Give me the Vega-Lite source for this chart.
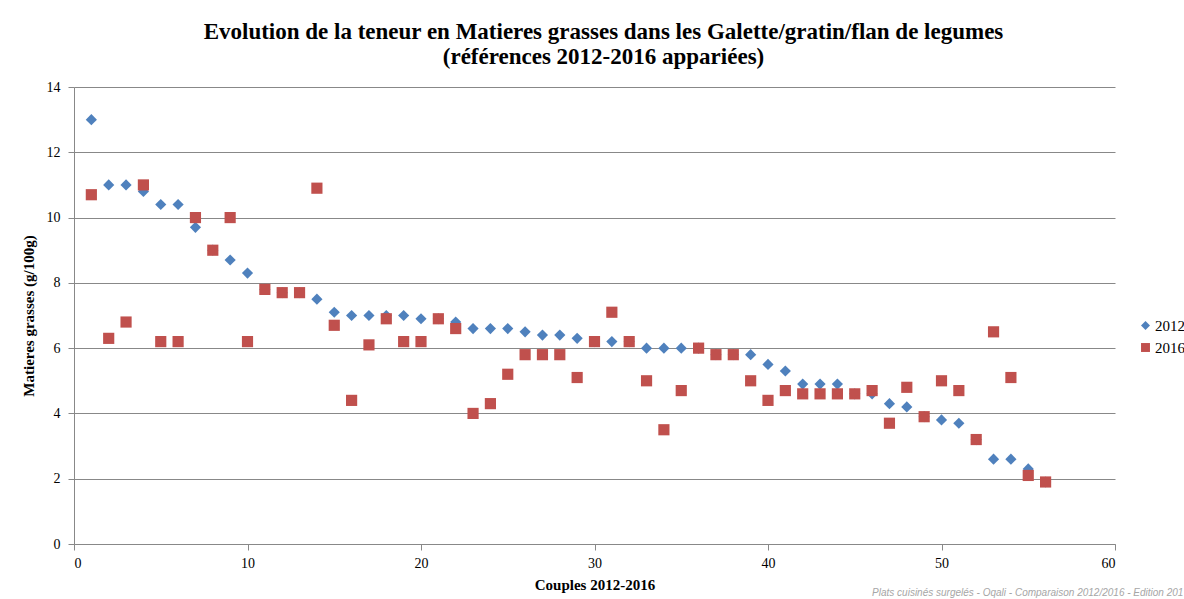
{
  "$schema": "https://vega.github.io/schema/vega-lite/v6.json",
  "autosize": {"type": "none"},
  "padding": {"left": 74, "top": 87, "right": 69, "bottom": 55},
  "width": 1041,
  "height": 457,
  "background": "white",
  "title": {
    "text": ["Evolution de la teneur en Matieres grasses dans les Galette/gratin/flan de legumes", "(références 2012-2016 appariées)"],
    "font": "Liberation Serif",
    "fontSize": 23,
    "fontWeight": "bold",
    "color": "#000000",
    "lineHeight": 25,
    "anchor": "middle",
    "dx": 9,
    "offset": 11
  },
  "config": {
    "view": {"stroke": null},
    "axis": {
      "labelFont": "Liberation Serif",
      "labelFontSize": 14,
      "labelColor": "#000000",
      "titleFont": "Liberation Serif",
      "titleFontSize": 15,
      "titleFontWeight": "bold",
      "titleColor": "#000000",
      "domainColor": "#888888",
      "tickColor": "#888888",
      "gridColor": "#888888",
      "tickSize": 6
    }
  },
  "data": {
    "values": [
      {"c":1,"s":"2012","v":13},{"c":2,"s":"2012","v":11},{"c":3,"s":"2012","v":11},{"c":4,"s":"2012","v":10.8},
      {"c":5,"s":"2012","v":10.4},{"c":6,"s":"2012","v":10.4},{"c":7,"s":"2012","v":9.7},{"c":8,"s":"2012","v":9.0},
      {"c":9,"s":"2012","v":8.7},{"c":10,"s":"2012","v":8.3},{"c":11,"s":"2012","v":7.8},{"c":12,"s":"2012","v":7.7},
      {"c":13,"s":"2012","v":7.7},{"c":14,"s":"2012","v":7.5},{"c":15,"s":"2012","v":7.1},{"c":16,"s":"2012","v":7.0},
      {"c":17,"s":"2012","v":7.0},{"c":18,"s":"2012","v":7.0},{"c":19,"s":"2012","v":7.0},{"c":20,"s":"2012","v":6.9},
      {"c":21,"s":"2012","v":6.9},{"c":22,"s":"2012","v":6.8},{"c":23,"s":"2012","v":6.6},{"c":24,"s":"2012","v":6.6},
      {"c":25,"s":"2012","v":6.6},{"c":26,"s":"2012","v":6.5},{"c":27,"s":"2012","v":6.4},{"c":28,"s":"2012","v":6.4},
      {"c":29,"s":"2012","v":6.3},{"c":30,"s":"2012","v":6.2},{"c":31,"s":"2012","v":6.2},{"c":32,"s":"2012","v":6.2},
      {"c":33,"s":"2012","v":6.0},{"c":34,"s":"2012","v":6.0},{"c":35,"s":"2012","v":6.0},{"c":36,"s":"2012","v":6.0},
      {"c":37,"s":"2012","v":5.8},{"c":38,"s":"2012","v":5.8},{"c":39,"s":"2012","v":5.8},{"c":40,"s":"2012","v":5.5},
      {"c":41,"s":"2012","v":5.3},{"c":42,"s":"2012","v":4.9},{"c":43,"s":"2012","v":4.9},{"c":44,"s":"2012","v":4.9},
      {"c":45,"s":"2012","v":4.6},{"c":46,"s":"2012","v":4.6},{"c":47,"s":"2012","v":4.3},{"c":48,"s":"2012","v":4.2},
      {"c":49,"s":"2012","v":3.9},{"c":50,"s":"2012","v":3.8},{"c":51,"s":"2012","v":3.7},{"c":52,"s":"2012","v":3.2},
      {"c":53,"s":"2012","v":2.6},{"c":54,"s":"2012","v":2.6},{"c":55,"s":"2012","v":2.3},{"c":56,"s":"2012","v":1.9},
      {"c":1,"s":"2016","v":10.7},{"c":2,"s":"2016","v":6.3},{"c":3,"s":"2016","v":6.8},{"c":4,"s":"2016","v":11.0},
      {"c":5,"s":"2016","v":6.2},{"c":6,"s":"2016","v":6.2},{"c":7,"s":"2016","v":10.0},{"c":8,"s":"2016","v":9.0},
      {"c":9,"s":"2016","v":10.0},{"c":10,"s":"2016","v":6.2},{"c":11,"s":"2016","v":7.8},{"c":12,"s":"2016","v":7.7},
      {"c":13,"s":"2016","v":7.7},{"c":14,"s":"2016","v":10.9},{"c":15,"s":"2016","v":6.7},{"c":16,"s":"2016","v":4.4},
      {"c":17,"s":"2016","v":6.1},{"c":18,"s":"2016","v":6.9},{"c":19,"s":"2016","v":6.2},{"c":20,"s":"2016","v":6.2},
      {"c":21,"s":"2016","v":6.9},{"c":22,"s":"2016","v":6.6},{"c":23,"s":"2016","v":4.0},{"c":24,"s":"2016","v":4.3},
      {"c":25,"s":"2016","v":5.2},{"c":26,"s":"2016","v":5.8},{"c":27,"s":"2016","v":5.8},{"c":28,"s":"2016","v":5.8},
      {"c":29,"s":"2016","v":5.1},{"c":30,"s":"2016","v":6.2},{"c":31,"s":"2016","v":7.1},{"c":32,"s":"2016","v":6.2},
      {"c":33,"s":"2016","v":5.0},{"c":34,"s":"2016","v":3.5},{"c":35,"s":"2016","v":4.7},{"c":36,"s":"2016","v":6.0},
      {"c":37,"s":"2016","v":5.8},{"c":38,"s":"2016","v":5.8},{"c":39,"s":"2016","v":5.0},{"c":40,"s":"2016","v":4.4},
      {"c":41,"s":"2016","v":4.7},{"c":42,"s":"2016","v":4.6},{"c":43,"s":"2016","v":4.6},{"c":44,"s":"2016","v":4.6},
      {"c":45,"s":"2016","v":4.6},{"c":46,"s":"2016","v":4.7},{"c":47,"s":"2016","v":3.7},{"c":48,"s":"2016","v":4.8},
      {"c":49,"s":"2016","v":3.9},{"c":50,"s":"2016","v":5.0},{"c":51,"s":"2016","v":4.7},{"c":52,"s":"2016","v":3.2},
      {"c":53,"s":"2016","v":6.5},{"c":54,"s":"2016","v":5.1},{"c":55,"s":"2016","v":2.1},{"c":56,"s":"2016","v":1.9}
    ]
  },
  "layer": [
    {
      "mark": {"type": "point", "filled": true, "opacity": 1, "size": 125},
      "encoding": {
        "x": {
          "field": "c", "type": "quantitative",
          "scale": {"domain": [0, 60], "nice": false},
          "axis": {"values": [0,10,20,30,40,50,60], "grid": false, "title": "Couples 2012-2016", "titlePadding": 7, "labelPadding": 6}
        },
        "y": {
          "field": "v", "type": "quantitative",
          "scale": {"domain": [0, 14], "nice": false},
          "axis": {"values": [0,2,4,6,8,10,12,14], "grid": true, "title": "Matieres grasses (g/100g)", "titlePadding": 10, "labelPadding": 8}
        },
        "color": {
          "field": "s", "type": "nominal",
          "scale": {"domain": ["2012", "2016"], "range": ["#4F81BD", "#C0504D"]},
          "legend": {
            "title": null, "orient": "none", "legendX": 1064, "legendY": 231,
            "labelFont": "Liberation Serif", "labelFontSize": 15, "labelColor": "#000000",
            "symbolSize": 80, "rowPadding": 6, "labelOffset": 2
          }
        },
        "shape": {
          "field": "s", "type": "nominal",
          "scale": {"domain": ["2012", "2016"], "range": ["diamond", "square"]},
          "legend": {
            "title": null, "orient": "none", "legendX": 1064, "legendY": 231,
            "labelFont": "Liberation Serif", "labelFontSize": 15, "labelColor": "#000000",
            "symbolSize": 80, "rowPadding": 6, "labelOffset": 2
          }
        }
      }
    },
    {
      "data": {"values": [{"c": 46.0, "v": -1.6, "t": "Plats cuisinés surgelés - Oqali - Comparaison 2012/2016 - Edition 201"}]},
      "mark": {"type": "text", "align": "left", "baseline": "alphabetic", "font": "Liberation Sans", "fontStyle": "italic", "fontSize": 10, "color": "#a6a6a6", "clip": false},
      "encoding": {
        "x": {"field": "c", "type": "quantitative"},
        "y": {"field": "v", "type": "quantitative"},
        "text": {"field": "t"}
      }
    }
  ]
}
